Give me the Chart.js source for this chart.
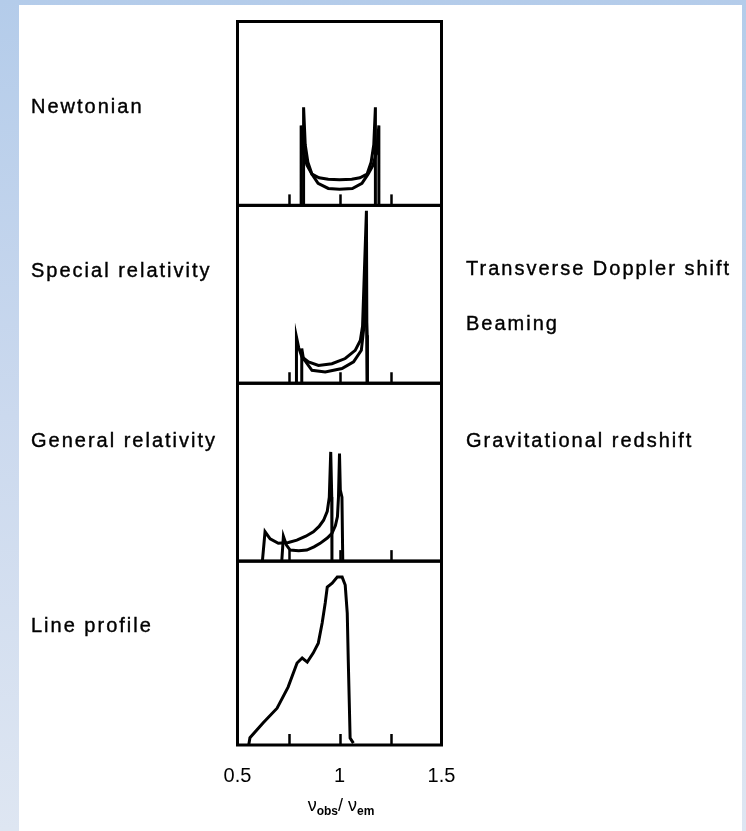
<!DOCTYPE html>
<html>
<head>
<meta charset="utf-8">
<script src="https://cdn.jsdelivr.net/npm/chart.js@4.4.1/dist/chart.umd.min.js"></script>
<style>
  html, body { margin: 0; padding: 0; width: 746px; height: 831px; overflow: hidden; }
  body {
    position: relative;
    background: linear-gradient(to bottom, #b4ccea 0%, #cbd9ee 50%, #dee6f2 100%);
    font-family: "Liberation Sans", Arial, sans-serif;
  }
  #sheet { position: absolute; left: 19px; top: 5px; width: 723px; height: 826px; background: #fff; }
  #chart { position: absolute; left: 0; top: 0; }
  .lbl { position: absolute; font-size: 20px; line-height: 20px; letter-spacing: 2px; color: #000; white-space: nowrap; -webkit-text-stroke: 0.4px #000; }
  #xtitle { position: absolute; left: 341px; top: 795px; transform: translateX(-50%); font-size: 18px; line-height: 20px; color: #000; white-space: nowrap; }
  #xtitle sub { font-size: 12px; font-weight: bold; vertical-align: -4px; }
</style>
</head>
<body>
<div id="sheet"></div>
<canvas id="chart" width="746" height="831"></canvas>
<div id="labels"></div>
<div id="xtitle">ν<sub>obs</sub>/ ν<sub>em</sub></div>
<script>
// Panel names (left) and the effect each panel adds (right)
const panelNames = ['Newtonian', 'Special relativity', 'General relativity', 'Line profile'];
const effectNames = ['Transverse Doppler shift', 'Beaming', 'Gravitational redshift'];

// x-axis tick values and their printed labels
const xTickValues = [0.5, 1, 1.5];
const xTickText = ['0.5', '1', '1.5'];

// Newtonian: two rings, symmetric double-horned profiles
const newtOuterX = [0.824, 0.824, 0.832, 0.845, 0.865, 0.90, 0.945, 1.0, 1.06, 1.10, 1.135, 1.155, 1.168, 1.176, 1.176];
const newtOuterY = [0, 0.533, 0.33, 0.235, 0.17, 0.15, 0.142, 0.14, 0.142, 0.15, 0.17, 0.235, 0.33, 0.533, 0];
const newtInnerX = [0.812, 0.812, 0.822, 0.840, 0.865, 0.895, 0.945, 1.0, 1.063, 1.11, 1.14, 1.165, 1.183, 1.193, 1.193];
const newtInnerY = [0, 0.435, 0.30, 0.22, 0.17, 0.12, 0.092, 0.088, 0.092, 0.12, 0.17, 0.22, 0.30, 0.435, 0];

// Special relativity: beamed blue horn, shifted profiles
const srOuterX = [0.789, 0.789, 0.800, 0.815, 0.848, 0.897, 0.963, 1.028, 1.077, 1.102, 1.113, 1.120, 1.132, 1.135];
const srOuterY = [0, 0.26, 0.20, 0.15, 0.12, 0.10, 0.11, 0.139, 0.185, 0.24, 0.32, 0.56, 0.97, 0];
const srInnerX = [0.815, 0.815, 0.823, 0.865, 0.930, 1.012, 1.069, 1.107, 1.118, 1.125, 1.135, 1.137];
const srInnerY = [0, 0.195, 0.139, 0.073, 0.063, 0.083, 0.12, 0.185, 0.30, 0.56, 0.27, 0];

// General relativity: gravitationally redshifted profiles
const grOuterX = [0.622, 0.635, 0.660, 0.700, 0.750, 0.791, 0.835, 0.872, 0.900, 0.922, 0.940, 0.950, 0.957, 0.962, 0.963];
const grOuterY = [0, 0.165, 0.125, 0.10, 0.105, 0.118, 0.14, 0.165, 0.195, 0.23, 0.28, 0.36, 0.614, 0.36, 0];
const grInnerX = [0.717, 0.725, 0.740, 0.758, 0.800, 0.840, 0.875, 0.905, 0.940, 0.963, 0.980, 0.990, 0.995, 1.000, 1.004, 1.012, 1.016];
const grInnerY = [0, 0.14, 0.09, 0.062, 0.058, 0.062, 0.08, 0.10, 0.13, 0.156, 0.20, 0.25, 0.36, 0.605, 0.40, 0.36, 0];

// Integrated line profile
const profileX = [0.555, 0.561, 0.625, 0.694, 0.748, 0.792, 0.817, 0.842, 0.871, 0.896, 0.915, 0.930, 0.940, 0.964, 0.989, 1.013, 1.028, 1.038, 1.043, 1.048, 1.052, 1.068];
const profileY = [0, 0.04, 0.12, 0.20, 0.315, 0.446, 0.473, 0.451, 0.50, 0.554, 0.663, 0.772, 0.859, 0.88, 0.913, 0.913, 0.87, 0.717, 0.46, 0.228, 0.038, 0.01];

const pts = (xs, ys) => xs.map((x, i) => ({ x: x, y: ys[i] }));
const lineStyle = { borderColor: '#000', borderWidth: 3, pointRadius: 0, fill: false, tension: 0, clip: 2 };

// Side labels
const labelLayer = document.getElementById('labels');
function addLabel(text, left, top) {
  const d = document.createElement('div');
  d.className = 'lbl';
  d.textContent = text;
  d.style.left = left + 'px';
  d.style.top = top + 'px';
  labelLayer.appendChild(d);
}
const leftTops = [96, 260, 430, 615];
panelNames.forEach((t, i) => addLabel(t, 31, leftTops[i]));
const rightTops = [258, 313, 430];
effectNames.forEach((t, i) => addLabel(t, 466, rightTops[i]));

// Frame around each stacked panel plus inward tick marks on each panel floor
const panelFrame = {
  id: 'panelFrame',
  afterDatasetsDraw(chart) {
    const ctx = chart.ctx;
    const area = chart.chartArea;
    const xs = chart.scales.x;
    ctx.save();
    ctx.strokeStyle = '#000';
    ['yN', 'yS', 'yG', 'yL'].forEach(id => {
      const s = chart.scales[id];
      ctx.lineWidth = 2.5;
      xs.ticks.forEach(t => {
        if (t.value > xs.min && t.value < xs.max) {
          const px = Math.round(xs.getPixelForValue(t.value)) + 0.5;
          ctx.beginPath();
          ctx.moveTo(px, s.bottom);
          ctx.lineTo(px, s.bottom - 11);
          ctx.stroke();
        }
      });
      ctx.lineWidth = 3;
      ctx.strokeRect(area.left, s.top, area.right - area.left, s.bottom - s.top);
    });
    ctx.restore();
  }
};

const yPanel = (weight) => ({
  type: 'linear', position: 'left', stack: 'panels', stackWeight: weight,
  min: 0, max: 1,
  grid: { display: false, drawTicks: false },
  border: { display: false },
  ticks: { display: false }
});

new Chart(document.getElementById('chart'), {
  type: 'line',
  data: {
    datasets: [
      Object.assign({ data: pts(newtOuterX, newtOuterY), yAxisID: 'yN' }, lineStyle),
      Object.assign({ data: pts(newtInnerX, newtInnerY), yAxisID: 'yN' }, lineStyle),
      Object.assign({ data: pts(srOuterX, srOuterY), yAxisID: 'yS' }, lineStyle),
      Object.assign({ data: pts(srInnerX, srInnerY), yAxisID: 'yS' }, lineStyle),
      Object.assign({ data: pts(grOuterX, grOuterY), yAxisID: 'yG' }, lineStyle),
      Object.assign({ data: pts(grInnerX, grInnerY), yAxisID: 'yG' }, lineStyle),
      Object.assign({ data: pts(profileX, profileY), yAxisID: 'yL' }, lineStyle)
    ]
  },
  options: {
    responsive: false,
    animation: false,
    devicePixelRatio: 1,
    layout: { padding: { left: 237.5, top: 21.5, right: 304.5, bottom: 24 } },
    plugins: { legend: { display: false }, tooltip: { enabled: false } },
    scales: {
      x: {
        type: 'linear', min: 0.5, max: 1.5,
        grid: { display: false, drawTicks: false },
        border: { display: false },
        ticks: {
          stepSize: 0.25, autoSkip: false, maxRotation: 0, padding: 19,
          color: '#000', font: { family: 'Liberation Sans', size: 20 },
          callback: (v) => { const i = xTickValues.indexOf(v); return i < 0 ? '' : xTickText[i]; }
        }
      },
      // stacked bottom-to-top
      yL: yPanel(184),
      yG: yPanel(178),
      yS: yPanel(178),
      yN: yPanel(184)
    }
  },
  plugins: [panelFrame]
});
</script>
</body>
</html>
